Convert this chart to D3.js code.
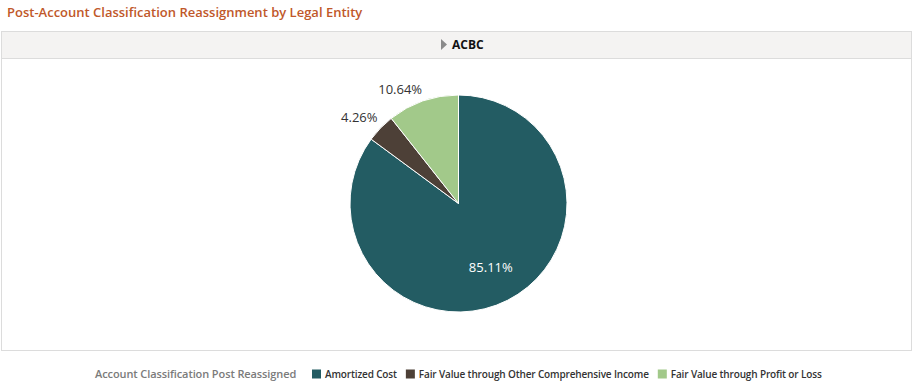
<!DOCTYPE html>
<html lang="en">
<head>
<meta charset="UTF-8">
<title>Post-Account Classification Reassignment by Legal Entity</title>
<script src="https://d3js.org/d3.v7.min.js"></script>
<style>
  body { margin: 0; padding: 0; background: white; font-family: "Open Sans", Lato, sans-serif; }
  svg { display: block; }
</style>
</head>
<body>
<div id="chart"></div>
<script>
const title = "Post-Account Classification Reassignment by Legal Entity";
const entity = "ACBC";
const legendTitle = "Account Classification Post Reassigned";
const categories = ["Amortized Cost", "Fair Value through Other Comprehensive Income", "Fair Value through Profit or Loss"];
const values = [85.11, 4.26, 10.64];
const colors = ["#235c63", "#4d4037", "#a2c98a"];

const width = 913, height = 387;
const svg = d3.select("#chart").append("svg")
  .attr("width", width).attr("height", height);

// title
svg.append("text")
  .attr("x", 7).attr("y", 17)
  .attr("fill", "#c0582a")
  .attr("font-size", 13).attr("font-weight", 600)
  .text(title);

// panel
svg.append("rect")
  .attr("x", 1.5).attr("y", 31.5).attr("width", 910).attr("height", 319)
  .attr("fill", "white").attr("stroke", "#dcdcdc");
svg.append("rect")
  .attr("x", 1.5).attr("y", 31.5).attr("width", 910).attr("height", 27)
  .attr("fill", "#f4f3f2").attr("stroke", "#dcdcdc");

// header with triangle
svg.append("path")
  .attr("d", "M441,39 L447,44.5 L441,50 Z")
  .attr("fill", "#8a8a8a");
svg.append("text")
  .attr("x", 452).attr("y", 49)
  .attr("font-size", 12).attr("font-weight", 700).attr("fill", "#111")
  .text(entity);

// pie
const cx = 458.5, cy = 203.5, r = 108.5;
const pie = d3.pie().sort(null).value(d => d);
const arc = d3.arc().innerRadius(0).outerRadius(r);
const arcs = pie(values);
const g = svg.append("g").attr("transform", `translate(${cx},${cy})`);
g.selectAll("path").data(arcs).join("path")
  .attr("d", arc)
  .attr("fill", (d, i) => colors[i])
  .attr("stroke", "white").attr("stroke-width", 1);

// labels: big slice inside, small slices outside (text corner at the arc's edge)
const inner = d3.arc().innerRadius(r * 0.66).outerRadius(r * 0.66);
const outer = d3.arc().innerRadius(r + 5.5).outerRadius(r + 5.5);
g.selectAll("text").data(arcs).join("text")
  .attr("transform", (d, i) => {
    if (i === 0) {
      const p = inner.centroid(d);
      return `translate(${p[0]},${p[1]})`;
    }
    const p = outer.centroid(d);
    return `translate(${p[0] + 1},${p[1] - 2})`;
  })
  .attr("text-anchor", (d, i) => i === 0 ? "middle" : "end")
  .attr("dy", (d, i) => i === 0 ? "0.35em" : 0)
  .attr("font-size", 13)
  .attr("fill", (d, i) => i === 0 ? "white" : "#333")
  .text(d => d.data.toFixed(2) + "%");

// legend
const ly = 374;
svg.append("text")
  .attr("x", 95).attr("y", ly + 4)
  .attr("font-size", 11).attr("font-weight", 600).attr("fill", "#7b7b7b")
  .style("letter-spacing", "-0.1px")
  .text(legendTitle);
let lx = 312;
categories.forEach((c, i) => {
  svg.append("rect")
    .attr("x", lx).attr("y", ly - 4.5).attr("width", 9).attr("height", 9)
    .attr("fill", colors[i]);
  const t = svg.append("text")
    .attr("x", lx + 13).attr("y", ly + 4)
    .attr("font-size", 10).attr("font-weight", 600).attr("fill", "#333")
    .style("letter-spacing", "-0.15px")
    .text(c);
  lx = lx + 13 + t.node().getComputedTextLength() + 9;
});
</script>
</body>
</html>
